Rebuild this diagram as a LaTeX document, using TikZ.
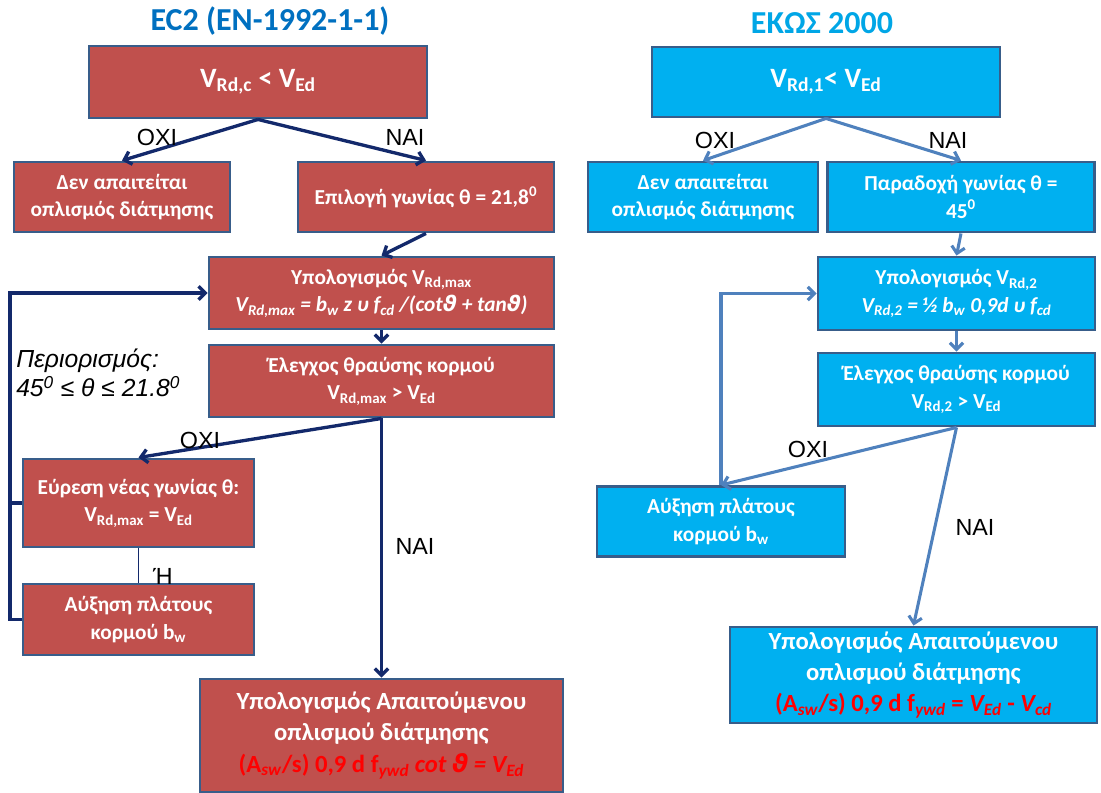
\documentclass[tikz,border=0pt]{standalone}
\usepackage{fontspec}
\setmainfont{Carlito}
\newfontfamily\arialf{Liberation Sans}
\newfontfamily\dejavuf{DejaVu Sans}
\usetikzlibrary{arrows.meta}
\definecolor{redbox}{HTML}{C0504D}
\definecolor{bluebox}{HTML}{00B0F0}
\definecolor{bordc}{HTML}{385D8A}
\definecolor{navyc}{HTML}{13296B}
\definecolor{lbluec}{HTML}{4F81BD}
\definecolor{titleblue}{HTML}{0070C0}
\definecolor{titlecyan}{HTML}{00A6E6}
\newcommand{\vth}{{\dejavuf\itshape ϑ}}
\begin{document}
\begin{tikzpicture}[x=0.75pt,y=-0.75pt,
  bx/.style={draw=bordc, line width=2.2pt, text=white, align=center, inner sep=0pt,
    font=\fontsize{16}{20.5}\selectfont\bfseries},
  rb/.style={bx, fill=redbox},
  cb/.style={bx, fill=bluebox},
  sz/.style 2 args={minimum width=#1*0.75pt, minimum height=#2*0.75pt},
  bigtxt/.style={font=\fontsize{18.5}{23.5}\selectfont\bfseries},
  larr/.style={draw=navyc, line width=2.5pt, -{Straight Barb[length=5pt,width=10pt]}},
  rarr/.style={draw=lbluec, line width=2.3pt, -{Straight Barb[length=5pt,width=10pt]}},
  lab/.style={font=\arialf\fontsize{17.5}{20}\selectfont, text=black, inner sep=0pt},
  ttl/.style={font=\fontsize{24}{26}\selectfont\bfseries, inner sep=0pt}
]
\useasboundingbox (0,0) rectangle (1101,793);

% titles
\node[ttl, text=titleblue] (t1) at (270,21) {EC2 (EN-1992-1-1)};
\node[ttl, text=titlecyan] (t2) at (822,23) {ΕΚΩΣ 2000};

% left column
\node[rb, sz={338}{72}, font=\fontsize{21}{24}\selectfont\bfseries] (A) at (258,82) {V\textsubscript{Rd,c} < V\textsubscript{Ed}};
\node[rb, sz={216}{70}] (B) at (122,197) {Δεν απαιτείται\\οπλισμός διάτμησης};
\node[rb, sz={256}{70}] (C) at (426,197) {Επιλογή γωνίας θ = 21,8\textsuperscript{0}};
\node[rb, sz={345}{72}] (D) at (381.5,293) {Υπολογισμός V\textsubscript{Rd,max}\\
  \textit{V\textsubscript{Rd,max} = b\textsubscript{w} z υ f\textsubscript{cd} /(cot\vth{} + tan\vth)}};
\node[rb, sz={345}{72}] (E) at (381.5,381) {Έλεγχος θραύσης κορμού\\V\textsubscript{Rd,max} > V\textsubscript{Ed}};
\node[rb, sz={231}{88}] (F) at (138.5,503) {Εύρεση νέας γωνίας θ:\\V\textsubscript{Rd,max} = V\textsubscript{Ed}};
\node[rb, sz={231}{71}] (G) at (138.5,619.5) {Αύξηση πλάτους\\κορμού b\textsubscript{w}};
\node[rb, sz={363}{113}, bigtxt] (H) at (381.5,735.5) {Υπολογισμός Απαιτούμενου\\οπλισμού διάτμησης\\
  \textcolor{red}{(A\textsubscript{\textit{sw}}/s) 0,9 d f\textsubscript{\textit{ywd}} \textit{cot \vth{} = V\textsubscript{Ed}}}};

\coordinate (lp) at (10,293);
\draw[larr] (A.south) -- (B.north);
\draw[larr] (A.south) -- (C.north);
\draw[larr] (C.south) -- (D.north);
\draw[larr] (D.south) -- (E.north);
\draw[larr] (E.south) -- (F.north);
\draw[larr] (E.south) -- (H.north);
\draw[draw=navyc, line width=1pt] (F.south) -- (G.north);
\draw[larr] (G.west) -| (lp) -- (D.west);
\draw[draw=navyc, line width=2.5pt] (F.west) -- (F.west -| lp);

\node[lab] (l1) at (157,137) {ΟΧΙ};
\node[lab] (l2) at (405,137) {ΝΑΙ};
\node[lab] (l3) at (200,440) {ΟΧΙ};
\node[lab] (l4) at (415,546) {ΝΑΙ};
\node[lab] (l5) at (163,576) {Ή};
\node[lab, anchor=west, align=left, font=\arialf\itshape\fontsize{18.5}{22}\selectfont] (lim) at (16,373)
  {Περιορισμός:\\45\textsuperscript{0} ≤ θ ≤ 21.8\textsuperscript{0}};

% right column
\node[cb, sz={348}{70}, font=\fontsize{21}{24}\selectfont\bfseries] (Ap) at (826,82) {V\textsubscript{Rd,1}< V\textsubscript{Ed}};
\node[cb, sz={230}{70}] (Bp) at (703,197) {Δεν απαιτείται\\οπλισμός διάτμησης};
\node[cb, sz={267}{70}] (Cp) at (961,197) {Παραδοχή γωνίας θ =\\45\textsuperscript{0}};
\node[cb, sz={277}{73}] (Dp) at (956.5,293.5) {Υπολογισμός V\textsubscript{Rd,2}\\
  \textit{V\textsubscript{Rd,2} = ½ b\textsubscript{w} 0,9d υ f\textsubscript{cd}}};
\node[cb, sz={277}{73}] (Ep) at (956.5,389.5) {Έλεγχος θραύσης κορμού\\V\textsubscript{Rd,2} > V\textsubscript{Ed}};
\node[cb, sz={248}{70}] (Gp) at (721,521.5) {Αύξηση πλάτους\\κορμού b\textsubscript{w}};
\node[cb, sz={367}{96}, bigtxt] (Hp) at (913.5,675) {Υπολογισμός Απαιτούμενου\\οπλισμού διάτμησης\\
  \textcolor{red}{(A\textsubscript{\textit{sw}}/s) 0,9 d f\textsubscript{\textit{ywd}} = \textit{V\textsubscript{Ed}} - \textit{V\textsubscript{cd}}}};

\draw[rarr] (Ap.south) -- (Bp.north);
\draw[rarr] (Ap.south) -- (Cp.north);
\draw[rarr] (Cp.south) -- (Dp.north);
\draw[rarr] (Dp.south) -- (Ep.north);
\draw[rarr] (Ep.south) -- (Gp.north);
\draw[rarr] (Ep.south) -- (Hp.north);
\draw[rarr] (Gp.north) |- (Dp.west);

\node[lab] (r1) at (715,140) {ΟΧΙ};
\node[lab] (r2) at (948,140) {ΝΑΙ};
\node[lab] (r3) at (808,449) {ΟΧΙ};
\node[lab] (r4) at (975,527) {ΝΑΙ};
\end{tikzpicture}
\end{document}
